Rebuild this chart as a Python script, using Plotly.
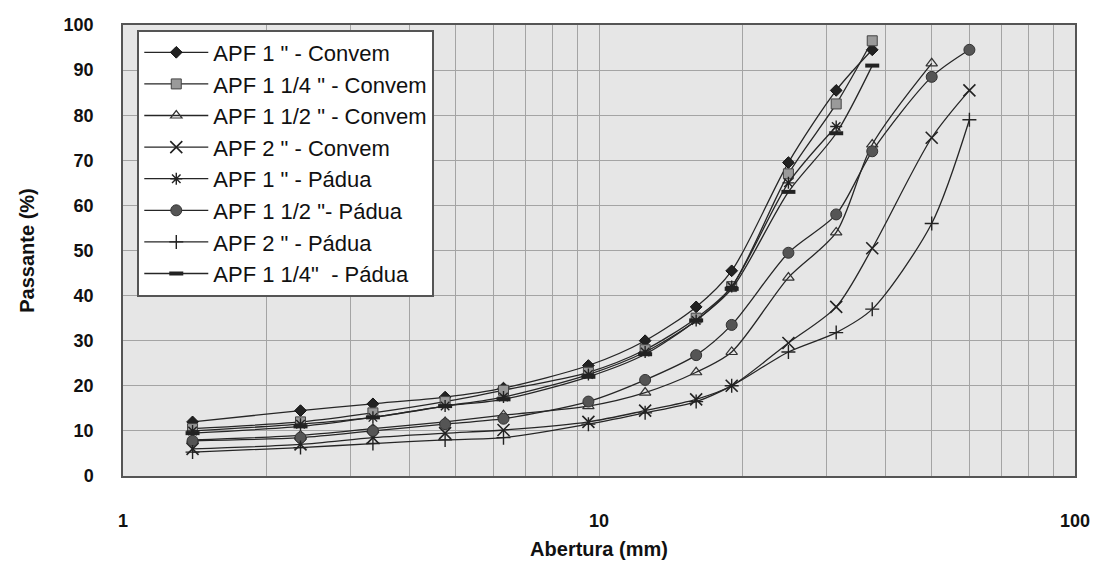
import plotly.graph_objects as go

# Sieve openings (mm)
sizes = [1.4, 2.36, 3.35, 4.75, 6.3, 9.5, 12.5, 16, 19, 25, 31.5, 37.5, 50, 60]

apf1_convem = [12, 14.5, 16, 17.5, 19.5, 24.5, 30, 37.5, 45.5, 69.5, 85.5, 94.5]
apf114_convem = [10.5, 12, 14, 16.5, 19, 23, 28, 35, 42, 67, 82.5, 96.5]
apf112_convem = [8, 9, 10.5, 12, 13.5, 15.5, 18.5, 23, 27.5, 44, 54, 73.5, 91.5]
apf2_convem = [6, 7, 8.5, 9.5, 10.2, 12, 14.5, 17, 20, 29.5, 37.5, 50.5, 75, 85.5]
apf1_padua = [10, 11.5, 13, 15.5, 17.5, 22.5, 27.5, 34.5, 42, 65, 77.5]
apf112_padua = [7.8, 8.5, 10, 11.5, 12.7, 16.5, 21.3, 26.8, 33.5, 49.5, 58, 72, 88.5, 94.5]
apf2_padua = [5.3, 6.3, 7.2, 8, 8.5, 11.5, 14, 16.5, 20, 27.5, 31.8, 37, 56, 79]
apf114_padua = [9.5, 11, 13, 15.5, 17, 22, 27, 34.5, 41.5, 63, 76, 91]

names = ['APF 1 " - Convem', 'APF 1 1/4 " - Convem', 'APF 1 1/2 " - Convem',
         'APF 2 " - Convem', 'APF 1 " - Pádua', 'APF 1 1/2 "- Pádua',
         'APF 2 " - Pádua', 'APF 1 1/4"  - Pádua']
series = [apf1_convem, apf114_convem, apf112_convem, apf2_convem,
          apf1_padua, apf112_padua, apf2_padua, apf114_padua]

markers = [
    dict(symbol='diamond', size=9, color='#222222', line=dict(color='#111111', width=1)),
    dict(symbol='square', size=10, color='#9a9a9a', line=dict(color='#444444', width=1)),
    dict(symbol='triangle-up-open', size=10, color='#333333', line=dict(color='#333333', width=1.2)),
    dict(symbol='x-thin-open', size=12, color='#222222', line=dict(color='#222222', width=1.6)),
    dict(symbol='asterisk-open', size=10, color='#222222', line=dict(color='#222222', width=1.4)),
    dict(symbol='circle', size=11, color='#555555', line=dict(color='#333333', width=1)),
    dict(symbol='cross-thin-open', size=10, color='#222222', line=dict(color='#222222', width=1.4)),
    dict(symbol='line-ew-open', size=10, color='#222222', line=dict(color='#222222', width=4)),
]

fig = go.Figure()
for name, ys, mk in zip(names, series, markers):
    fig.add_trace(go.Scatter(
        x=sizes[:len(ys)], y=ys, name=name, mode='lines+markers',
        line=dict(color='#262626', width=1.3, shape='spline', smoothing=0.8),
        marker=mk,
    ))

font_family = 'Liberation Sans, Arial, sans-serif'
minor_vals = [2, 3, 4, 5, 6, 7, 8, 9, 20, 30, 40, 50, 60, 70, 80, 90]

fig.update_layout(
    width=1102, height=565,
    margin=dict(l=123, r=27, t=25, b=89),
    paper_bgcolor='white',
    plot_bgcolor='#e6e6e6',
    font=dict(family=font_family, color='#111111'),
    showlegend=True,
    legend=dict(
        x=0.015, y=0.99, xanchor='left', yanchor='top',
        bgcolor='white', bordercolor='#555555', borderwidth=2,
        font=dict(size=22, family=font_family, color='#111111'),
        itemwidth=64, entrywidth=320, entrywidthmode='pixels',
    ),
    xaxis=dict(
        type='log', range=[0, 2], automargin=False,
        tickvals=[1, 10, 100], ticktext=['1', '10', '100'],
        tickfont=dict(size=18, weight='bold'),
        ticks='', ticklabelstandoff=28,
        showgrid=True, gridcolor='#a4a4a4', gridwidth=1,
        minor=dict(tickvals=minor_vals, showgrid=True, gridcolor='#a4a4a4', gridwidth=1),
        showline=True, linecolor='#555555', linewidth=1.5, mirror=True,
        zeroline=False,
        title=dict(text='Abertura (mm)', font=dict(size=20, weight='bold'), standoff=12),
    ),
    yaxis=dict(
        range=[0, 100], tickvals=list(range(0, 101, 10)), automargin=False,
        tickfont=dict(size=18, weight='bold'),
        ticks='', ticklabelstandoff=24,
        showgrid=True, gridcolor='#a4a4a4', gridwidth=1,
        showline=True, linecolor='#555555', linewidth=1.5, mirror=True,
        zeroline=False,
        title=dict(text='Passante (%)', font=dict(size=20, weight='bold'), standoff=24),
    ),
)

fig.write_html('out.html')
